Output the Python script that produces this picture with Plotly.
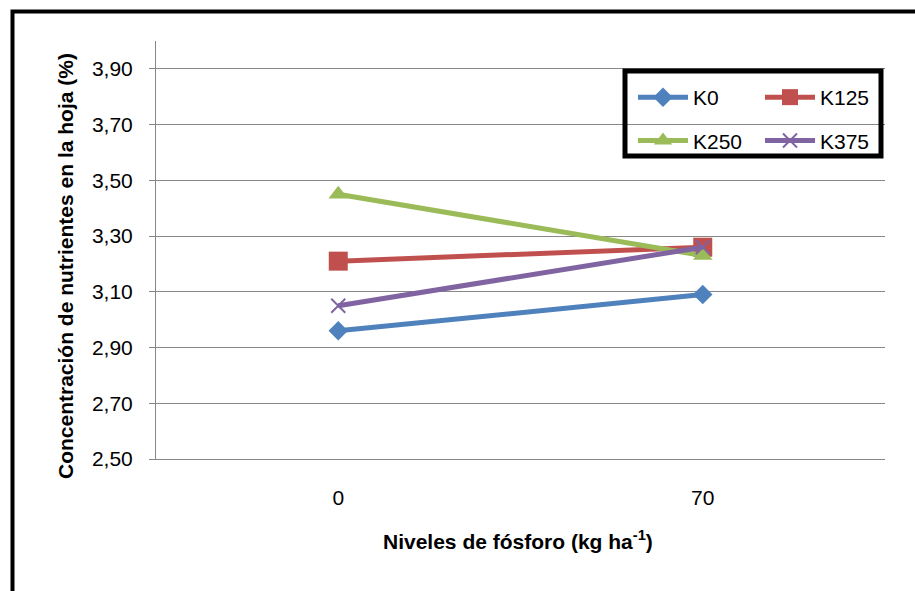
import plotly.graph_objects as go

categories = ["0", "70"]
k0 = [2.96, 3.09]
k125 = [3.21, 3.26]
k250 = [3.45, 3.23]
k375 = [3.05, 3.26]
y_ticks = [2.5, 2.7, 2.9, 3.1, 3.3, 3.5, 3.7, 3.9]

series = [
    ("K0", k0, "#4F81BD", "diamond", 15, "legend"),
    ("K125", k125, "#C0504D", "square", 19, "legend2"),
    ("K250", k250, "#9BBB59", "triangle-up", 17, "legend"),
    ("K375", k375, "#8064A2", "x-thin", 14, "legend2"),
]

W, H = 915, 591
L, R, T, B = 156, 30, 41, 132
pw, ph = W - L - R, H - T - B

def px_x(x):
    return (x - L) / pw

def px_y(y):
    return (H - B - y) / ph

fig = go.Figure()
for i, (name, vals, col, sym, size, leg) in enumerate(series):
    marker = dict(symbol=sym, size=size, color=col)
    if sym == "x-thin":
        marker["line"] = dict(color=col, width=2)
    fig.add_trace(go.Scatter(
        x=categories, y=vals, name=name, mode="lines+markers",
        line=dict(color=col, width=5), marker=marker,
        legend=leg, legendgroup=name,
    ))

axis_gray = "#878787"
font_family = "Liberation Sans, Arial, sans-serif"

legend_common = dict(
    bgcolor="rgba(0,0,0,0)", borderwidth=0, orientation="v",
    font=dict(family=font_family, size=21, color="black"),
    traceorder="grouped", tracegroupgap=13, itemwidth=50,
    xanchor="left", yanchor="top",
)

fig.update_layout(
    width=W, height=H,
    margin=dict(l=L, r=R, t=T, b=B, pad=0),
    paper_bgcolor="white", plot_bgcolor="white",
    separators=",.",
    font=dict(family=font_family, size=21, color="black"),
    showlegend=True,
    legend=dict(x=px_x(633), y=px_y(77), **legend_common),
    legend2=dict(x=px_x(760), y=px_y(77), **legend_common),
    xaxis=dict(
        type="category", range=[-0.5, 1.5], showgrid=False, showline=True,
        linecolor=axis_gray, linewidth=1, ticks="", tickfont=dict(size=21),
        ticklabelstandoff=20, zeroline=False,
    ),
    yaxis=dict(
        range=[2.5, 4.0], tickvals=y_ticks, tickformat=".2f",
        showgrid=True, gridcolor=axis_gray, gridwidth=1,
        showline=True, linecolor=axis_gray, linewidth=1,
        ticks="outside", ticklen=6, tickcolor=axis_gray, tickwidth=1,
        tickfont=dict(size=21), ticklabelstandoff=12, zeroline=False,
    ),
    shapes=[
        dict(type="rect", xref="paper", yref="paper",
             x0=px_x(12.5), x1=px_x(940), y0=px_y(620), y1=px_y(11.5),
             line=dict(color="black", width=4), fillcolor="rgba(0,0,0,0)"),
        dict(type="rect", xref="paper", yref="paper",
             x0=px_x(625), x1=px_x(881), y0=px_y(156), y1=px_y(71),
             line=dict(color="black", width=5), fillcolor="rgba(0,0,0,0)"),
    ],
    annotations=[
        dict(text="<b>Concentración de nutrientes en la hoja (%)</b>",
             textangle=-90, xref="paper", yref="paper",
             x=px_x(65), y=px_y(266), xanchor="center", yanchor="middle",
             showarrow=False, font=dict(size=21, family=font_family)),
        dict(text="<b>Niveles de fósforo (kg ha<sup>-1</sup>)</b>",
             xref="paper", yref="paper",
             x=px_x(518), y=px_y(540), xanchor="center", yanchor="middle",
             showarrow=False, font=dict(size=21, family=font_family)),
    ],
)

fig.write_html("out.html")
